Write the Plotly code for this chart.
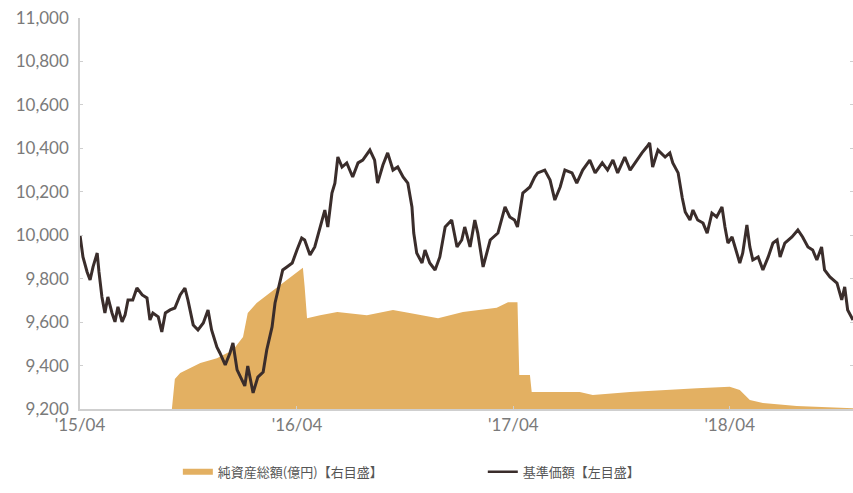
import plotly.graph_objects as go

# 基準価額（左目盛）
nav_dates = [
    "2015-04-01", "2015-04-06", "2015-04-13", "2015-04-18", "2015-04-23", "2015-04-30",
    "2015-05-03", "2015-05-08", "2015-05-13", "2015-05-18", "2015-05-25", "2015-05-30",
    "2015-06-04", "2015-06-11", "2015-06-16", "2015-06-21", "2015-06-29", "2015-07-06",
    "2015-07-15", "2015-07-23", "2015-07-28", "2015-08-02", "2015-08-11", "2015-08-17",
    "2015-08-23", "2015-08-31", "2015-09-08", "2015-09-17", "2015-09-25", "2015-09-30",
    "2015-10-09", "2015-10-17", "2015-10-26", "2015-11-03", "2015-11-09", "2015-11-18",
    "2015-11-23", "2015-12-02", "2015-12-10", "2015-12-15", "2015-12-22", "2016-01-04",
    "2016-01-09", "2016-01-18", "2016-01-26", "2016-02-04", "2016-02-10", "2016-02-19",
    "2016-02-24", "2016-03-03", "2016-03-08", "2016-03-15", "2016-03-24", "2016-04-01",
    "2016-04-09", "2016-04-14", "2016-04-23", "2016-05-01", "2016-05-13", "2016-05-18",
    "2016-05-23", "2016-05-30", "2016-06-04", "2016-06-09", "2016-06-16", "2016-06-24",
    "2016-07-04", "2016-07-13", "2016-07-21", "2016-08-02", "2016-08-10", "2016-08-15",
    "2016-08-24", "2016-09-01", "2016-09-10", "2016-09-18", "2016-09-27", "2016-10-05",
    "2016-10-12", "2016-10-15", "2016-10-20", "2016-10-29", "2016-11-03", "2016-11-11",
    "2016-11-20", "2016-11-28", "2016-12-07", "2016-12-18", "2016-12-27", "2017-01-04",
    "2017-01-09", "2017-01-18", "2017-01-26", "2017-01-31", "2017-02-09", "2017-02-21",
    "2017-03-06", "2017-03-18", "2017-03-26", "2017-04-03", "2017-04-08", "2017-04-17",
    "2017-04-29", "2017-05-07", "2017-05-12", "2017-05-24", "2017-06-02", "2017-06-10",
    "2017-06-19", "2017-06-27", "2017-07-09", "2017-07-17", "2017-07-27", "2017-08-08",
    "2017-08-17", "2017-08-29", "2017-09-07", "2017-09-16", "2017-09-24", "2017-10-06",
    "2017-10-15", "2017-10-26", "2017-11-04", "2017-11-12", "2017-11-17", "2017-11-22",
    "2017-12-01", "2017-12-13", "2017-12-21", "2017-12-26", "2018-01-04", "2018-01-11",
    "2018-01-16", "2018-01-24", "2018-01-29", "2018-02-06", "2018-02-15", "2018-02-22",
    "2018-03-02", "2018-03-10", "2018-03-19", "2018-03-24", "2018-03-29", "2018-04-05",
    "2018-04-10", "2018-04-18", "2018-04-23", "2018-04-30", "2018-05-05", "2018-05-10",
    "2018-05-19", "2018-05-27", "2018-06-05", "2018-06-13", "2018-06-20", "2018-06-25",
    "2018-07-03", "2018-07-15", "2018-07-25", "2018-08-02", "2018-08-11", "2018-08-19",
    "2018-08-26", "2018-09-03", "2018-09-08", "2018-09-17", "2018-09-29", "2018-10-07",
    "2018-10-12", "2018-10-17", "2018-10-26",
]
nav_values = [
    10000, 9900, 9831, 9794, 9854, 9918,
    9831, 9716, 9642, 9716, 9642, 9601,
    9670, 9601, 9633, 9702, 9702, 9757,
    9725, 9711, 9610, 9642, 9624, 9555,
    9642, 9656, 9665, 9725, 9757, 9702,
    9587, 9564, 9596, 9656, 9564, 9485,
    9458, 9403, 9458, 9504, 9380, 9306,
    9398, 9274, 9347, 9370, 9472, 9578,
    9688, 9780, 9840, 9854, 9872, 9932,
    9987, 9978, 9909, 9946, 10070, 10116,
    10038, 10194, 10240, 10360, 10314, 10333,
    10268, 10333, 10346, 10392, 10346, 10240,
    10323, 10379, 10300, 10314, 10268, 10240,
    10130, 10010, 9918, 9872, 9932, 9872,
    9840, 9900, 10038, 10070, 9946, 9978,
    10038, 9946, 10070, 10010, 9854, 9978,
    10010, 10130, 10084, 10070, 10038, 10194,
    10222, 10268, 10287, 10300, 10254, 10162,
    10222, 10300, 10287, 10240, 10300, 10346,
    10287, 10333, 10300, 10346, 10287, 10360,
    10300, 10346, 10379, 10406, 10425, 10314,
    10392, 10360, 10379, 10333, 10287, 10171,
    10107, 10070, 10116, 10070, 10056, 10010,
    10102, 10084, 10130, 10038, 9964, 9992,
    9946, 9872, 9918, 10047, 9946, 9886,
    9900, 9840, 9900, 9964, 9978, 9900,
    9964, 9992, 10024, 9992, 9946, 9932,
    9886, 9946, 9840, 9808, 9780, 9702,
    9762, 9656, 9610,
]

# 純資産総額（億円・右目盛）
aum_dates = [
    "2015-08-31", "2015-09-03", "2015-09-08", "2015-09-17", "2015-10-21", "2015-11-18",
    "2015-12-15", "2016-01-01", "2016-01-09", "2016-01-24", "2016-02-10", "2016-02-27",
    "2016-03-15", "2016-04-06", "2016-04-11", "2016-04-14", "2016-04-18", "2016-05-10",
    "2016-06-08", "2016-07-28", "2016-09-10", "2016-10-08", "2016-11-25", "2017-01-06",
    "2017-03-04", "2017-03-23", "2017-04-08", "2017-04-11", "2017-04-29", "2017-05-02",
    "2017-07-22", "2017-08-13", "2017-10-15", "2018-02-05", "2018-04-01", "2018-04-18",
    "2018-05-05", "2018-05-27", "2018-07-23", "2018-10-26",
]
aum_values = [
    0, 0, 6.9, 8.3, 10.6, 11.7,
    13.6, 16.6, 22.1, 24.4, 26.2, 27.9,
    29.7, 32.0, 32.5, 28.1, 20.9, 21.6,
    22.3, 21.6, 22.8, 22.1, 20.9, 22.3,
    23.3, 24.6, 24.6, 7.8, 7.8, 3.9,
    3.9, 3.2, 3.9, 4.8, 5.1, 4.4,
    2.1, 1.4, 0.7, 0.2,
]

tick_vals = ["2015-04-01", "2016-04-01", "2017-04-01", "2018-04-01"]
tick_text = ["'15/04", "'16/04", "'17/04", "'18/04"]
nav_ticks = list(range(9200, 11001, 200))

name_aum = "純資産総額(億円)【右目盛】"
name_nav = "基準価額【左目盛】"

gold = "#E3B062"
dark = "#3a2d2b"

fig = go.Figure()
# area on primary (right) axis, drawn underneath
fig.add_trace(go.Scatter(
    x=aum_dates, y=aum_values, yaxis="y", mode="lines",
    line=dict(color=gold, width=0), fill="tozeroy", fillcolor=gold,
    showlegend=False, hoverinfo="skip",
))
# NAV line on overlaying (left) axis, drawn on top
fig.add_trace(go.Scatter(
    x=nav_dates, y=nav_values, yaxis="y2", mode="lines",
    line=dict(color=dark, width=3), showlegend=False,
))
# legend entries
fig.add_trace(go.Scatter(x=[None], y=[None], mode="lines",
                         line=dict(color=gold, width=6), name=name_aum, legend="legend"))
fig.add_trace(go.Scatter(x=[None], y=[None], mode="lines",
                         line=dict(color=dark, width=2.5), name=name_nav, legend="legend2"))

axis_font = dict(family="Lato, Open Sans, sans-serif", size=17, color="#7a7a7a")
legend_font = dict(family="Noto Sans CJK JP", size=13, color="#555555")

fig.update_layout(
    width=853, height=493,
    margin=dict(l=80, r=0, t=18, b=84, autoexpand=False),
    paper_bgcolor="white", plot_bgcolor="white",
    xaxis=dict(
        range=["2015-04-01", "2018-10-26"], automargin=False,
        tickmode="array", tickvals=tick_vals, ticktext=tick_text,
        tickfont=axis_font, showgrid=False, zeroline=False,
        showline=True, linecolor="#cfcfcf", linewidth=1.5,
        ticks="inside", ticklen=3, tickcolor="#cfcfcf",
    ),
    yaxis=dict(
        side="right", range=[0, 90], dtick=10, automargin=False,
        showticklabels=False, showgrid=False, zeroline=False, showline=False,
        ticks="inside", ticklen=3, tickcolor="#cfcfcf",
    ),
    yaxis2=dict(
        overlaying="y", side="left", automargin=False,
        range=[9200, 11000], tickmode="array", tickvals=nav_ticks,
        tickformat=",d", tickfont=axis_font, showgrid=False, zeroline=False,
        showline=True, linecolor="#cfcfcf", linewidth=1.5,
        ticks="inside", ticklen=3, tickcolor="#cfcfcf", ticklabelstandoff=6,
    ),
    legend=dict(orientation="h", xref="container", yref="container",
                x=0.2085, y=0.043, xanchor="left", yanchor="middle",
                font=legend_font, bgcolor="rgba(0,0,0,0)"),
    legend2=dict(orientation="h", xref="container", yref="container",
                 x=0.566, y=0.043, xanchor="left", yanchor="middle",
                 font=legend_font, bgcolor="rgba(0,0,0,0)"),
)

fig.write_html("out.html", config={"displayModeBar": False},
               post_script="document.body.style.margin='0';document.body.style.overflow='hidden';")
